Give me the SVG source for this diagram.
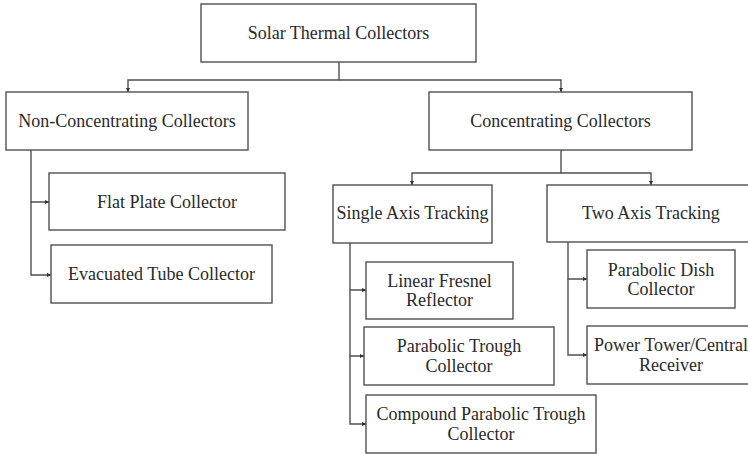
<svg xmlns="http://www.w3.org/2000/svg" width="748" height="454" viewBox="0 0 748 454">
<defs>
<style>
.box{fill:#fff;stroke:#505050;stroke-width:1.4}
.ln{fill:none;stroke:#505050;stroke-width:1.4}
</style>
<marker id="ah" viewBox="0 0 6 6" refX="6" refY="3" markerWidth="4" markerHeight="4" orient="auto" markerUnits="userSpaceOnUse">
<path d="M0,0 L6,3 L0,6 Z" fill="#303030"/>
</marker>
</defs>
<rect width="748" height="454" fill="#fff"/>
<g id="connectors">
<path class="ln" d="M339,62 V80 H128 V92" marker-end="url(#ah)"/>
<path class="ln" d="M339,80 H561 V92" marker-end="url(#ah)"/>
<path class="ln" d="M31,150 V202 H49" marker-end="url(#ah)"/>
<path class="ln" d="M31,202 V275 H51" marker-end="url(#ah)"/>
<path class="ln" d="M561,150 V173 H412 V185" marker-end="url(#ah)"/>
<path class="ln" d="M561,173 H651 V185" marker-end="url(#ah)"/>
<path class="ln" d="M350,243 V290 H366" marker-end="url(#ah)"/>
<path class="ln" d="M350,290 V356 H364" marker-end="url(#ah)"/>
<path class="ln" d="M350,356 V424 H366" marker-end="url(#ah)"/>
<path class="ln" d="M568,242 V279 H587" marker-end="url(#ah)"/>
<path class="ln" d="M568,279 V355 H587" marker-end="url(#ah)"/>
</g>
<g id="solar">
<rect class="box" x="201" y="4" width="275" height="58"/>
<text x="338.5" y="39" font-family="Liberation Serif" font-size="18" fill="#2a2a2a" text-anchor="middle">Solar Thermal Collectors</text>
</g>
<g id="nonconc">
<rect class="box" x="6" y="92" width="242" height="58"/>
<text x="127" y="127" font-family="Liberation Serif" font-size="18" fill="#2a2a2a" text-anchor="middle">Non-Concentrating Collectors</text>
</g>
<g id="conc">
<rect class="box" x="429" y="92" width="263" height="58"/>
<text x="560.5" y="127" font-family="Liberation Serif" font-size="18" fill="#2a2a2a" text-anchor="middle">Concentrating Collectors</text>
</g>
<g id="flatplate">
<rect class="box" x="49" y="173" width="236" height="57"/>
<text x="167" y="208" font-family="Liberation Serif" font-size="18" fill="#2a2a2a" text-anchor="middle">Flat Plate Collector</text>
</g>
<g id="evacuated">
<rect class="box" x="51" y="245" width="221" height="58"/>
<text x="161.5" y="280" font-family="Liberation Serif" font-size="18" fill="#2a2a2a" text-anchor="middle">Evacuated Tube Collector</text>
</g>
<g id="single">
<rect class="box" x="333" y="185" width="159" height="58"/>
<text x="412.5" y="219" font-family="Liberation Serif" font-size="18" fill="#2a2a2a" text-anchor="middle">Single Axis Tracking</text>
</g>
<g id="two">
<rect class="box" x="547" y="185" width="210" height="57"/>
<text x="651" y="219" font-family="Liberation Serif" font-size="18" fill="#2a2a2a" text-anchor="middle">Two Axis Tracking</text>
</g>
<g id="fresnel">
<rect class="box" x="366" y="262" width="147" height="57"/>
<text x="439.5" y="287" font-family="Liberation Serif" font-size="18" fill="#2a2a2a" text-anchor="middle">Linear Fresnel</text>
<text x="439.5" y="306" font-family="Liberation Serif" font-size="18" fill="#2a2a2a" text-anchor="middle">Reflector</text>
</g>
<g id="trough">
<rect class="box" x="364" y="327" width="190" height="58"/>
<text x="459" y="352" font-family="Liberation Serif" font-size="18" fill="#2a2a2a" text-anchor="middle">Parabolic Trough</text>
<text x="459" y="372" font-family="Liberation Serif" font-size="18" fill="#2a2a2a" text-anchor="middle">Collector</text>
</g>
<g id="compound">
<rect class="box" x="366" y="395" width="230" height="58"/>
<text x="481" y="420" font-family="Liberation Serif" font-size="18" fill="#2a2a2a" text-anchor="middle">Compound Parabolic Trough</text>
<text x="481" y="440" font-family="Liberation Serif" font-size="18" fill="#2a2a2a" text-anchor="middle">Collector</text>
</g>
<g id="dish">
<rect class="box" x="587" y="250" width="148" height="58"/>
<text x="661" y="276" font-family="Liberation Serif" font-size="18" fill="#2a2a2a" text-anchor="middle">Parabolic Dish</text>
<text x="661" y="295" font-family="Liberation Serif" font-size="18" fill="#2a2a2a" text-anchor="middle">Collector</text>
</g>
<g id="tower">
<rect class="box" x="587" y="326" width="170" height="58"/>
<text x="671" y="351" font-family="Liberation Serif" font-size="18" fill="#2a2a2a" text-anchor="middle">Power Tower/Central</text>
<text x="671" y="371" font-family="Liberation Serif" font-size="18" fill="#2a2a2a" text-anchor="middle">Receiver</text>
</g>
</svg>
